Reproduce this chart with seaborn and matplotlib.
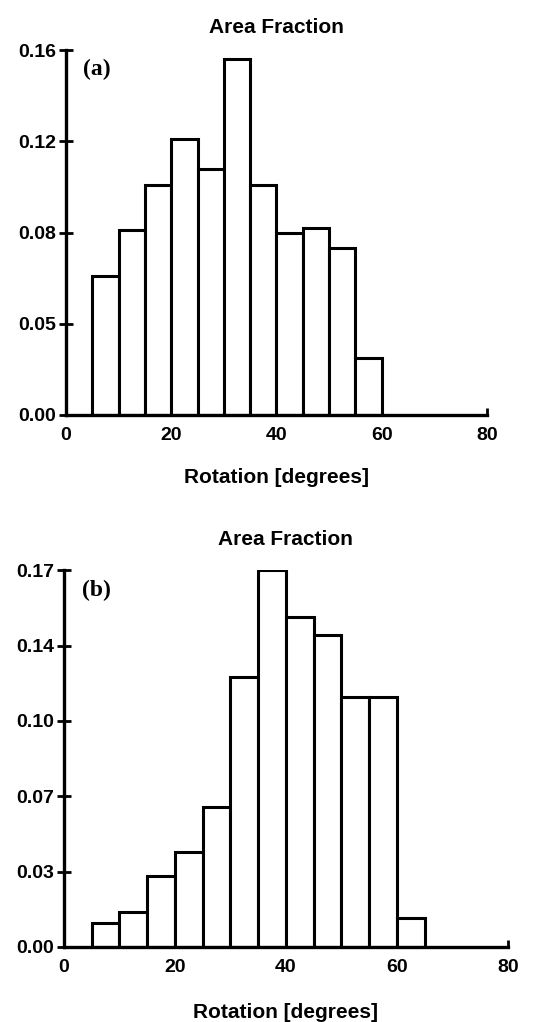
import numpy as np
import matplotlib
matplotlib.use("Agg")
import matplotlib.pyplot as plt
import seaborn as sns

# ---- data ----
bin_edges_a = [5, 10, 15, 20, 25, 30, 35, 40, 45, 50, 55, 60]
values_a = [0.061, 0.081, 0.101, 0.121, 0.108, 0.156, 0.101, 0.080, 0.082, 0.073, 0.025]
bin_edges_b = [5, 10, 15, 20, 25, 30, 35, 40, 45, 50, 55, 60, 65]
values_b = [0.011, 0.016, 0.032, 0.043, 0.063, 0.122, 0.170, 0.149, 0.141, 0.113, 0.113, 0.013]
yticks_a = [0.0, 0.04, 0.08, 0.12, 0.16]
yticklabels_a = ["0.00", "0.05", "0.08", "0.12", "0.16"]
yticks_b = [0.0, 0.034, 0.068, 0.102, 0.136, 0.17]
yticklabels_b = ["0.00", "0.03", "0.07", "0.10", "0.14", "0.17"]
xticks = [0, 20, 40, 60, 80]
title = "Area Fraction"
xlabel = "Rotation [degrees]"
panel_labels = ["(a)", "(b)"]

sns.set_style("white")
plt.rcParams["font.family"] = ["Liberation Sans", "DejaVu Sans"]
plt.rcParams["text.color"] = "black"
plt.rcParams["axes.labelcolor"] = "black"
plt.rcParams["xtick.color"] = "black"
plt.rcParams["ytick.color"] = "black"

fig = plt.figure(figsize=(5.41, 10.22), dpi=100)
ax_a = fig.add_axes([0.122, 0.594, 0.778, 0.357])
ax_b = fig.add_axes([0.118, 0.0734, 0.821, 0.3686])

panels = [
    (ax_a, bin_edges_a, values_a, yticks_a, yticklabels_a, 0.16, panel_labels[0], 17, 12),
    (ax_b, bin_edges_b, values_b, yticks_b, yticklabels_b, 0.17, panel_labels[1], 19, 18),
]

for ax, edges, vals, yt, ytl, ymax, plabel, xlpad, tpad in panels:
    centers = [(edges[i] + edges[i + 1]) / 2 for i in range(len(vals))]
    sns.histplot(x=centers, weights=vals, bins=edges, stat="count",
                 color="white", edgecolor="black", linewidth=2.2, alpha=1.0, ax=ax)
    ax.set_xlim(0, 80)
    ax.set_ylim(0, ymax)
    ax.set_yticks(yt)
    ax.set_yticklabels(ytl)
    ax.set_xticks(xticks)
    ax.set_xticklabels([str(t) for t in xticks])
    ax.set_ylabel("")
    ax.set_xlabel(xlabel, fontsize=15, fontweight="bold", labelpad=xlpad)
    ax.set_title(title, fontsize=15, fontweight="bold", pad=tpad)
    for s in ["top", "right"]:
        ax.spines[s].set_visible(False)
    for s in ["left", "bottom"]:
        ax.spines[s].set_linewidth(2.4)
        ax.spines[s].set_color("black")
    ax.tick_params(axis="y", direction="inout", length=10, width=2, labelsize=14, pad=2)
    ax.tick_params(axis="x", direction="in", length=5, width=2, labelsize=14, pad=9)
    ax.tick_params(axis="x", bottom=True)
    ax.tick_params(axis="y", left=True)
    for lab in ax.get_xticklabels() + ax.get_yticklabels():
        lab.set_fontweight("bold")
    ax.text(0.04, 0.975, plabel, transform=ax.transAxes, ha="left", va="top",
            fontsize=17, fontweight="bold", family=["Liberation Serif", "DejaVu Serif"])
    ax.grid(False)

fig.savefig("out.png", dpi=100, facecolor="white")
